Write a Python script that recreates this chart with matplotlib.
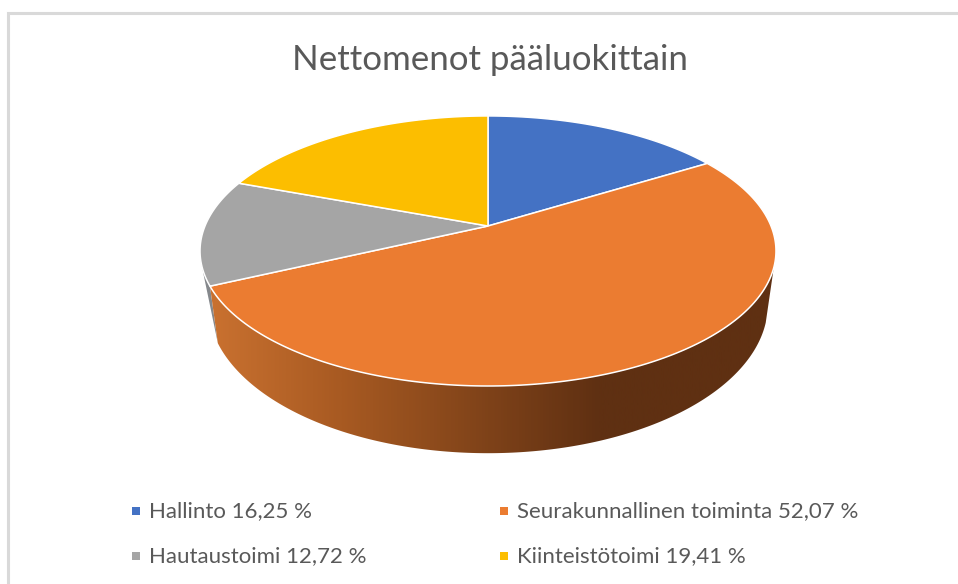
import numpy as np
import matplotlib
matplotlib.use('Agg')
import matplotlib.pyplot as plt
from matplotlib.patches import Polygon, Rectangle
from matplotlib.colors import LinearSegmentedColormap

title = 'Nettomenot pääluokittain'
categories = ['Hallinto', 'Seurakunnallinen toiminta', 'Hautaustoimi', 'Kiinteistötoimi']
values = [16.25, 52.07, 12.72, 19.41]
colors = ['#4472C4', '#EB7C31', '#A5A5A5', '#FCBE00']

plt.rcParams['font.family'] = ['Lato', 'DejaVu Sans']
text_color = '#595959'


# top face and lower rim of the disc, as circles seen in perspective
def top_rim(t):
    w = 1 + 0.185 * np.cos(t)
    return 488 + 283 * np.sin(t) / w, 226 - 130.4 * np.cos(t) / w


def low_rim(t):
    w = 1 + 0.185 * np.cos(t)
    return 488 + 275 * np.sin(t) / w, 277 - 143.6 * np.cos(t) / w


fig = plt.figure(figsize=(9.58, 5.84), dpi=100)
ax = fig.add_axes([0, 0, 1, 1])

# chart frame
ax.plot([8, 8, 958], [584, 13, 13], color='#d9d9d9', lw=2.2, solid_joinstyle='miter')

ends = np.cumsum(values) / np.sum(values) * 2 * np.pi
starts = np.concatenate([[0], ends[:-1]])

# side of the disc, orange slice
t = np.linspace(np.radians(107.5), ends[1], 200)
xt, yt = top_rim(t)
xl, yl = low_rim(t)
side = Polygon(np.column_stack([np.r_[xt, xl[::-1]], np.r_[yt, yl[::-1]]]),
               closed=True, fc='none', ec='none')
ax.add_patch(side)
# dark from about x=600 on, lighter going left
shade = LinearSegmentedColormap.from_list('shade', ['#CC7331', '#A85A22', '#5F3012', '#5F3012'])
grad = np.interp(np.linspace(200, 780, 600), [200, 340, 600, 780], [0, 1 / 3, 2 / 3, 1])
img = ax.imshow(grad.reshape(1, -1), cmap=shade, vmin=0, vmax=1,
                extent=[200, 780, 584, 0], aspect='auto', zorder=2)
img.set_clip_path(side)

# sliver of the grey slice side on the far left
t2 = np.linspace(ends[1], np.radians(254), 12)
x2, y2 = top_rim(t2)
xe, ye = low_rim(ends[1])
ax.add_patch(Polygon(np.column_stack([np.r_[x2, xe], np.r_[y2, ye]]), closed=True,
                     fc='#85888C', ec='none', zorder=1.5))

# top face
for s, e, c in zip(starts, ends, colors):
    t = np.linspace(s, e, 200)
    x, y = top_rim(t)
    ax.add_patch(Polygon(np.column_stack([np.r_[488, x], np.r_[226, y]]), closed=True,
                         fc=c, ec='white', lw=1.1, zorder=3))

ax.text(489.5, 60, title, ha='center', va='center', fontsize=25.1, color=text_color)

# legend
leg_x = [136, 504, 136, 504]
leg_y = [511, 511, 556, 556]
for name, v, c, lx, ly in zip(categories, values, colors, leg_x, leg_y):
    ax.add_patch(Rectangle((lx - 4, ly - 4), 8, 8, fc=c, ec='none'))
    label = '%s %s %%' % (name, ('%.2f' % v).replace('.', ','))
    ax.text(lx + 13, ly + 0.5, label, ha='left', va='center', fontsize=16, color=text_color)

ax.set_xlim(0, 958)
ax.set_ylim(584, 0)
ax.axis('off')

fig.savefig('out.png', dpi=100)
